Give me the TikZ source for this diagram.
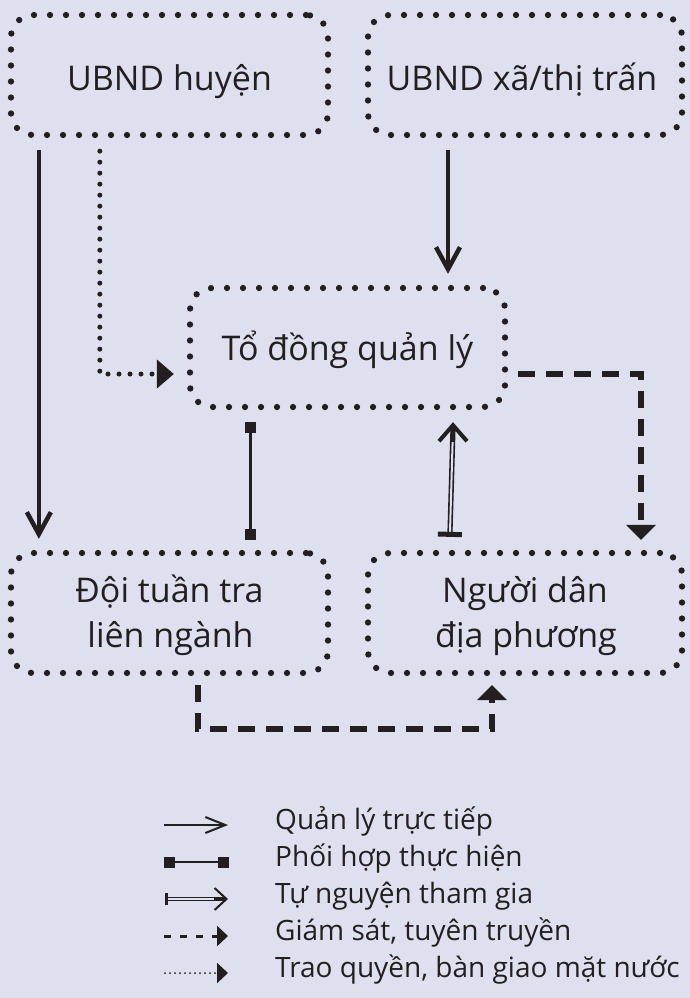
\documentclass[tikz,border=0pt]{standalone}
\usepackage{fontspec}
\setmainfont{Open Sans}
\usetikzlibrary{arrows.meta,calc}
\definecolor{bg}{RGB}{223,224,239}
\definecolor{ink}{RGB}{35,31,32}
\begin{document}
\begin{tikzpicture}[x=1pt,y=-1pt,
  box/.style={draw=ink, line width=6.3pt, dash pattern=on 0pt off 16pt, line cap=round, rounded corners=22pt, inner sep=0pt},
  boxtext/.style={text=ink, font=\fontsize{34}{40}\selectfont, anchor=base, inner sep=0pt},
  legtext/.style={text=ink, font=\fontsize{28}{30}\selectfont, anchor=base west, inner sep=0pt},
  direct/.style={draw=ink, line width=4.5pt, -{Straight Barb[length=22pt,width=24pt,line width=4.5pt]}},
  handover/.style={draw=ink, line width=5pt, dash pattern=on 0pt off 11pt, line cap=round, -{Triangle[length=17pt,width=28pt]}},
  coop/.style={draw=ink, line width=3pt, {Square[length=11pt,width=11pt]}-{Square[length=11pt,width=11pt]}},
  volunline/.style={draw=ink, double=bg, line width=1.6pt, double distance=2pt, {Bar[width=24pt,line width=5pt]}-},
  volunhead/.style={draw=ink, line width=4pt, -{Straight Barb[length=16pt,width=28pt,line width=4pt]}},
  monitor/.style={draw=ink, line width=5.5pt, dash pattern=on 17pt off 11pt, -{Triangle[length=15pt,width=29pt]}},
  ldirect/.style={draw=ink, line width=2pt, -{Straight Barb[length=20pt,width=16pt,line width=2pt]}},
  lcoop/.style={draw=ink, line width=2pt, {Square[length=11pt,width=11pt]}-{Square[length=11pt,width=11pt]}},
  lvolunline/.style={draw=ink, double=bg, line width=1pt, double distance=1.5pt, {Bar[width=12pt,line width=2.5pt]}-},
  lvolunhead/.style={draw=ink, line width=2pt, -{Straight Barb[length=12pt,width=22pt,line width=2pt]}},
  lmonitor/.style={draw=ink, line width=3pt, dash pattern=on 7pt off 9pt, -{Triangle[length=11pt,width=20pt]}},
  lhandover/.style={draw=ink, line width=2pt, dash pattern=on 0pt off 5pt, line cap=round, -{Triangle[length=11pt,width=20pt]}}
]
\fill[bg] (0,0) rectangle (690,998);
\useasboundingbox (0,0) rectangle (690,998);

% boxes
\node[box, minimum width=317pt, minimum height=120pt] (A) at (169.5,75) {};
\node[box, minimum width=314pt, minimum height=120pt] (B) at (525,75) {};
\node[box, minimum width=315pt, minimum height=119pt] (C) at (347.5,347.5) {};
\node[box, minimum width=317pt, minimum height=120pt] (D) at (169.5,613) {};
\node[box, minimum width=314pt, minimum height=120pt] (E) at (525,613) {};

% box texts
\node[boxtext] (At) at ($(A.center)+(0,15)$) {UBND huyện};
\node[boxtext] (Bt) at ($(B.center)+(-3,15)$) {UBND xã/thị trấn};
\node[boxtext] (Ct) at ($(C.center)+(0,12.5)$) {Tổ đồng quản lý};
\node[boxtext] (Dt1) at ($(D.center)+(0,-11)$) {Đội tuần tra};
\node[boxtext] (Dt2) at ($(D.center)+(1,34)$) {liên ngành};
\node[boxtext] (Et1) at ($(E.center)+(0,-11)$) {Người dân};
\node[boxtext] (Et2) at ($(E.center)+(1,34)$) {địa phương};

% connectors
\draw[direct] ($(A.south west)+(31,12)$) -- ($(D.north west)+(31,-11)$);
\draw[handover] ($(A.south west)+(92,13)$) |- ($(C.west)+(-13,26.5)$);
\draw[direct] ($(B.south)+(-77,12)$) -- ($(C.north)+(100.5,-11)$);
\draw[monitor] ($(C.east)+(10,26.5)$) -| ($(E.north)+(116,-10)$);
\draw[coop] ($(C.south west)+(64,12)$) -- ($(D.north west)+(243,-10)$);
\coordinate (v1) at ($(E.north west)+(85,-13)$);
\coordinate (v2) at ($(C.south)+(105.5,12)$);
\coordinate (v3) at ($(v2)+(0,6)$);
\draw[volunline] (v1) -- (v3);
\draw[volunhead] ($(v2)+(0,20)$) -- (v2);
\draw[monitor] ($(D.south)+(28.5,9)$) -- ++(0,44) -| ($(E.south)+(-33,9)$);

% legend
\coordinate (l1a) at (164,825); \coordinate (l1b) at (228,825);
\coordinate (l2a) at (164,862); \coordinate (l2b) at (229,862);
\coordinate (l3a) at (165,899); \coordinate (l3b) at (228,899);
\coordinate (l4a) at (164,936); \coordinate (l4b) at (228,936);
\coordinate (l5a) at (165,973); \coordinate (l5b) at (228,973);
\draw[ldirect] (l1a) -- (l1b);
\draw[lcoop] (l2a) -- (l2b);
\draw[lvolunline] (l3a) -- ($(l3b)+(-3,0)$);
\draw[lvolunhead] ($(l3b)+(-14,0)$) -- (l3b);
\draw[lmonitor] (l4a) -- (l4b);
\draw[lhandover] (l5a) -- (l5b);
\node[legtext] (t1) at (275,829) {Quản lý trực tiếp};
\node[legtext] (t2) at (275,866) {Phối hợp thực hiện};
\node[legtext] (t3) at (275,903) {Tự nguyện tham gia};
\node[legtext] (t4) at (275,940) {Giám sát, tuyên truyền};
\node[legtext] (t5) at (275,977) {Trao quyền, bàn giao mặt nước};
\end{tikzpicture}
\end{document}
